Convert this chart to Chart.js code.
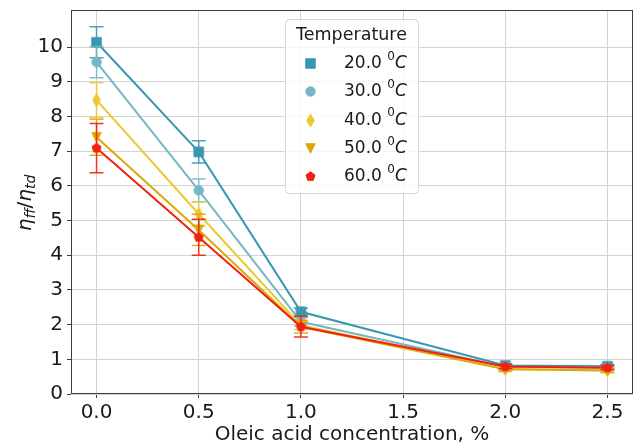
<!DOCTYPE html>
<html>
<head>
<meta charset="utf-8">
<script src="https://cdn.jsdelivr.net/npm/chart.js@4.4.1/dist/chart.umd.min.js"></script>
<style>
  html, body { margin: 0; padding: 0; background: #fff; }
</style>
</head>
<body>
<canvas id="viscChart" width="636" height="444"></canvas>
<script>
// oleic acid concentration, % (x values of every series)
const concentrations = [0.0, 0.5, 1.0, 2.0, 2.5];
const xTicks = [0.0, 0.5, 1.0, 1.5, 2.0, 2.5];
const yTicks = [0, 1, 2, 3, 4, 5, 6, 7, 8, 9, 10];

// viscosity ratio eta_ff / eta_td per temperature, with error half-widths
const temperatures = ['20.0', '30.0', '40.0', '50.0', '60.0'];
const ratio20 = [10.14, 6.98, 2.37, 0.82, 0.80];
const ratio30 = [9.57, 5.87, 2.08, 0.78, 0.76];
const ratio40 = [8.47, 5.19, 1.98, 0.72, 0.68];
const ratio50 = [7.40, 4.73, 1.94, 0.71, 0.68];
const ratio60 = [7.09, 4.52, 1.94, 0.79, 0.76];
const err20 = [0.45, 0.32, 0.10, 0.05, 0.05];
const err30 = [0.45, 0.33, 0.12, 0.05, 0.05];
const err40 = [0.50, 0.35, 0.12, 0.06, 0.06];
const err50 = [0.52, 0.45, 0.18, 0.06, 0.06];
const err60 = [0.71, 0.52, 0.30, 0.06, 0.06];

const FONT = "'DejaVu Sans', 'Liberation Sans', sans-serif";

// small canvases used as point styles
function makeMarker(shape, color, m) {
  const pad = 3;
  const c = document.createElement('canvas');
  const w = Math.ceil(m * 1.5) + pad * 2;
  c.width = w; c.height = w;
  const g = c.getContext('2d');
  const cx = w / 2, cy = w / 2;
  g.fillStyle = color;
  g.strokeStyle = color;
  g.lineWidth = 1;
  g.beginPath();
  if (shape === 'square') {
    g.rect(cx - m / 2, cy - m / 2, m, m);
  } else if (shape === 'circle') {
    g.arc(cx, cy, m / 2, 0, Math.PI * 2);
  } else if (shape === 'thin_diamond') {
    const h = m * 0.68, hw = m * 0.4;
    g.moveTo(cx, cy - h); g.lineTo(cx + hw, cy); g.lineTo(cx, cy + h); g.lineTo(cx - hw, cy);
    g.closePath();
  } else if (shape === 'triangle_down') {
    g.moveTo(cx - m / 2, cy - m / 2); g.lineTo(cx + m / 2, cy - m / 2); g.lineTo(cx, cy + m / 2);
    g.closePath();
  } else if (shape === 'pentagon') {
    for (let k = 0; k < 5; k++) {
      const a = -Math.PI / 2 + k * 2 * Math.PI / 5;
      const px = cx + Math.cos(a) * m / 2, py = cy + Math.sin(a) * m / 2;
      if (k === 0) g.moveTo(px, py); else g.lineTo(px, py);
    }
    g.closePath();
  }
  g.fill();
  g.stroke();
  return c;
}

const seriesDefs = [
  { values: ratio20, errors: err20, color: '#3a97b0', shape: 'square' },
  { values: ratio30, errors: err30, color: '#74b7c5', shape: 'circle' },
  { values: ratio40, errors: err40, color: '#ebc930', shape: 'thin_diamond' },
  { values: ratio50, errors: err50, color: '#dba905', shape: 'triangle_down' },
  { values: ratio60, errors: err60, color: '#f2200e', shape: 'pentagon' }
];

const datasets = seriesDefs.map((s, i) => {
  const marker = makeMarker(s.shape, s.color, 9.5);
  s.marker = marker;
  return {
    label: temperatures[i],
    data: concentrations.map((x, j) => ({ x, y: s.values[j] })),
    errors: s.errors,
    showLine: true,
    borderColor: s.color,
    backgroundColor: s.color,
    borderWidth: 2,
    pointStyle: marker,
    pointRadius: 6,
    order: seriesDefs.length - i
  };
});

// vertical error bars with caps, drawn just under each series
const errorBars = {
  id: 'errorBars',
  beforeDatasetDraw(chart, args) {
    const ds = chart.data.datasets[args.index];
    const { ctx, scales: { x, y } } = chart;
    ctx.save();
    ctx.strokeStyle = ds.borderColor;
    ctx.globalAlpha = 0.9;
    ctx.lineWidth = 1.5;
    ds.data.forEach((pt, j) => {
      const e = ds.errors[j];
      const px = x.getPixelForValue(pt.x);
      const top = y.getPixelForValue(pt.y + e);
      const bot = y.getPixelForValue(pt.y - e);
      ctx.beginPath();
      ctx.moveTo(px, top); ctx.lineTo(px, bot);
      ctx.moveTo(px - 7, top); ctx.lineTo(px + 7, top);
      ctx.moveTo(px - 7, bot); ctx.lineTo(px + 7, bot);
      ctx.stroke();
    });
    ctx.restore();
  }
};

// axes frame, axis titles and the legend box
const decorations = {
  id: 'decorations',
  afterDatasetsDraw(chart) {
    const { ctx, chartArea: a } = chart;
    ctx.save();
    ctx.strokeStyle = '#3c3c3c';
    ctx.lineWidth = 1;
    ctx.strokeRect(Math.round(a.left) + 0.5, Math.round(a.top) + 0.5,
      Math.round(a.right - a.left) - 1, Math.round(a.bottom - a.top) - 1);
    ctx.restore();
  },
  afterDraw(chart) {
    const { ctx, chartArea: a } = chart;
    ctx.save();
    ctx.fillStyle = '#1a1a1a';

    // x title
    ctx.font = `20px ${FONT}`;
    ctx.textAlign = 'center';
    ctx.textBaseline = 'alphabetic';
    ctx.fillText('Oleic acid concentration, %', (a.left + a.right) / 2, 440);

    // y title: eta_ff / eta_td
    ctx.translate(25, (a.top + a.bottom) / 2 + 1);
    ctx.rotate(-Math.PI / 2);
    ctx.textAlign = 'left';
    const parts = [
      { t: 'η', f: `italic 20px ${FONT}`, dy: 0 },
      { t: 'ff', f: `italic 14px ${FONT}`, dy: 4 },
      { t: '/', f: `20px ${FONT}`, dy: 0 },
      { t: 'η', f: `italic 20px ${FONT}`, dy: 0 },
      { t: 'td', f: `italic 14px ${FONT}`, dy: 4 }
    ];
    let total = 0;
    parts.forEach(p => { ctx.font = p.f; p.w = ctx.measureText(p.t).width; total += p.w; });
    let cx = -total / 2;
    parts.forEach(p => { ctx.font = p.f; ctx.fillText(p.t, cx, 6 + p.dy); cx += p.w; });
    ctx.restore();

    // legend
    ctx.save();
    const L = 285, T = 19, W = 133, H = 174;
    ctx.beginPath();
    ctx.roundRect(L + 0.5, T + 0.5, W, H, 4);
    ctx.fillStyle = 'rgba(255,255,255,0.8)';
    ctx.fill();
    ctx.strokeStyle = '#d6d6d6';
    ctx.lineWidth = 1;
    ctx.stroke();
    ctx.fillStyle = '#1a1a1a';
    ctx.textBaseline = 'middle';
    ctx.textAlign = 'center';
    ctx.font = `17.5px ${FONT}`;
    ctx.fillText('Temperature', L + W / 2, 35);
    ctx.textAlign = 'left';
    seriesDefs.forEach((s, i) => {
      const yy = 63.5 + i * 28.3;
      ctx.drawImage(s.marker, Math.round(310 - s.marker.width / 2), Math.round(yy - s.marker.height / 2));
      let tx = 344;
      ctx.font = `17px ${FONT}`;
      const lbl = temperatures[i] + ' ';
      ctx.fillText(lbl, tx, yy);
      tx += ctx.measureText(lbl).width;
      ctx.font = `12px ${FONT}`;
      ctx.fillText('0', tx, yy - 7);
      tx += ctx.measureText('0').width;
      ctx.font = `italic 17px ${FONT}`;
      ctx.fillText('C', tx, yy);
    });
    ctx.restore();
  }
};

const tickFont = { family: FONT, size: 20 };

// drop the label-overflow padding so the plot box keeps its size
function noPadding(s) {
  s.paddingLeft = 0; s.paddingRight = 0; s.paddingTop = 0; s.paddingBottom = 0;
}

new Chart(document.getElementById('viscChart'), {
  type: 'scatter',
  data: { datasets },
  options: {
    responsive: false,
    animation: false,
    events: [],
    layout: { autoPadding: false, padding: { top: 10, right: 3, left: 0, bottom: 0 } },
    plugins: { legend: { display: false }, tooltip: { enabled: false } },
    scales: {
      x: {
        type: 'linear',
        min: -0.125,
        max: 2.625,
        afterBuildTicks: s => { s.ticks = xTicks.map(v => ({ value: v })); },
        afterFit: s => { s.height = 50; noPadding(s); },
        ticks: {
          autoSkip: false, maxRotation: 0, padding: 3, color: '#1a1a1a', font: tickFont,
          callback: v => Number(v).toFixed(1)
        },
        grid: { color: '#d3d3d3', lineWidth: 1, tickColor: '#3c3c3c', tickLength: 4 },
        border: { display: false }
      },
      y: {
        type: 'linear',
        min: 0,
        max: 11.07,
        afterBuildTicks: s => { s.ticks = yTicks.map(v => ({ value: v })); },
        afterFit: s => { s.width = 71; noPadding(s); },
        ticks: {
          autoSkip: false, padding: 4, color: '#1a1a1a', font: tickFont,
          callback: v => String(v)
        },
        grid: { color: '#d3d3d3', lineWidth: 1, tickColor: '#3c3c3c', tickLength: 4 },
        border: { display: false }
      }
    }
  },
  plugins: [errorBars, decorations]
});
</script>
</body>
</html>
